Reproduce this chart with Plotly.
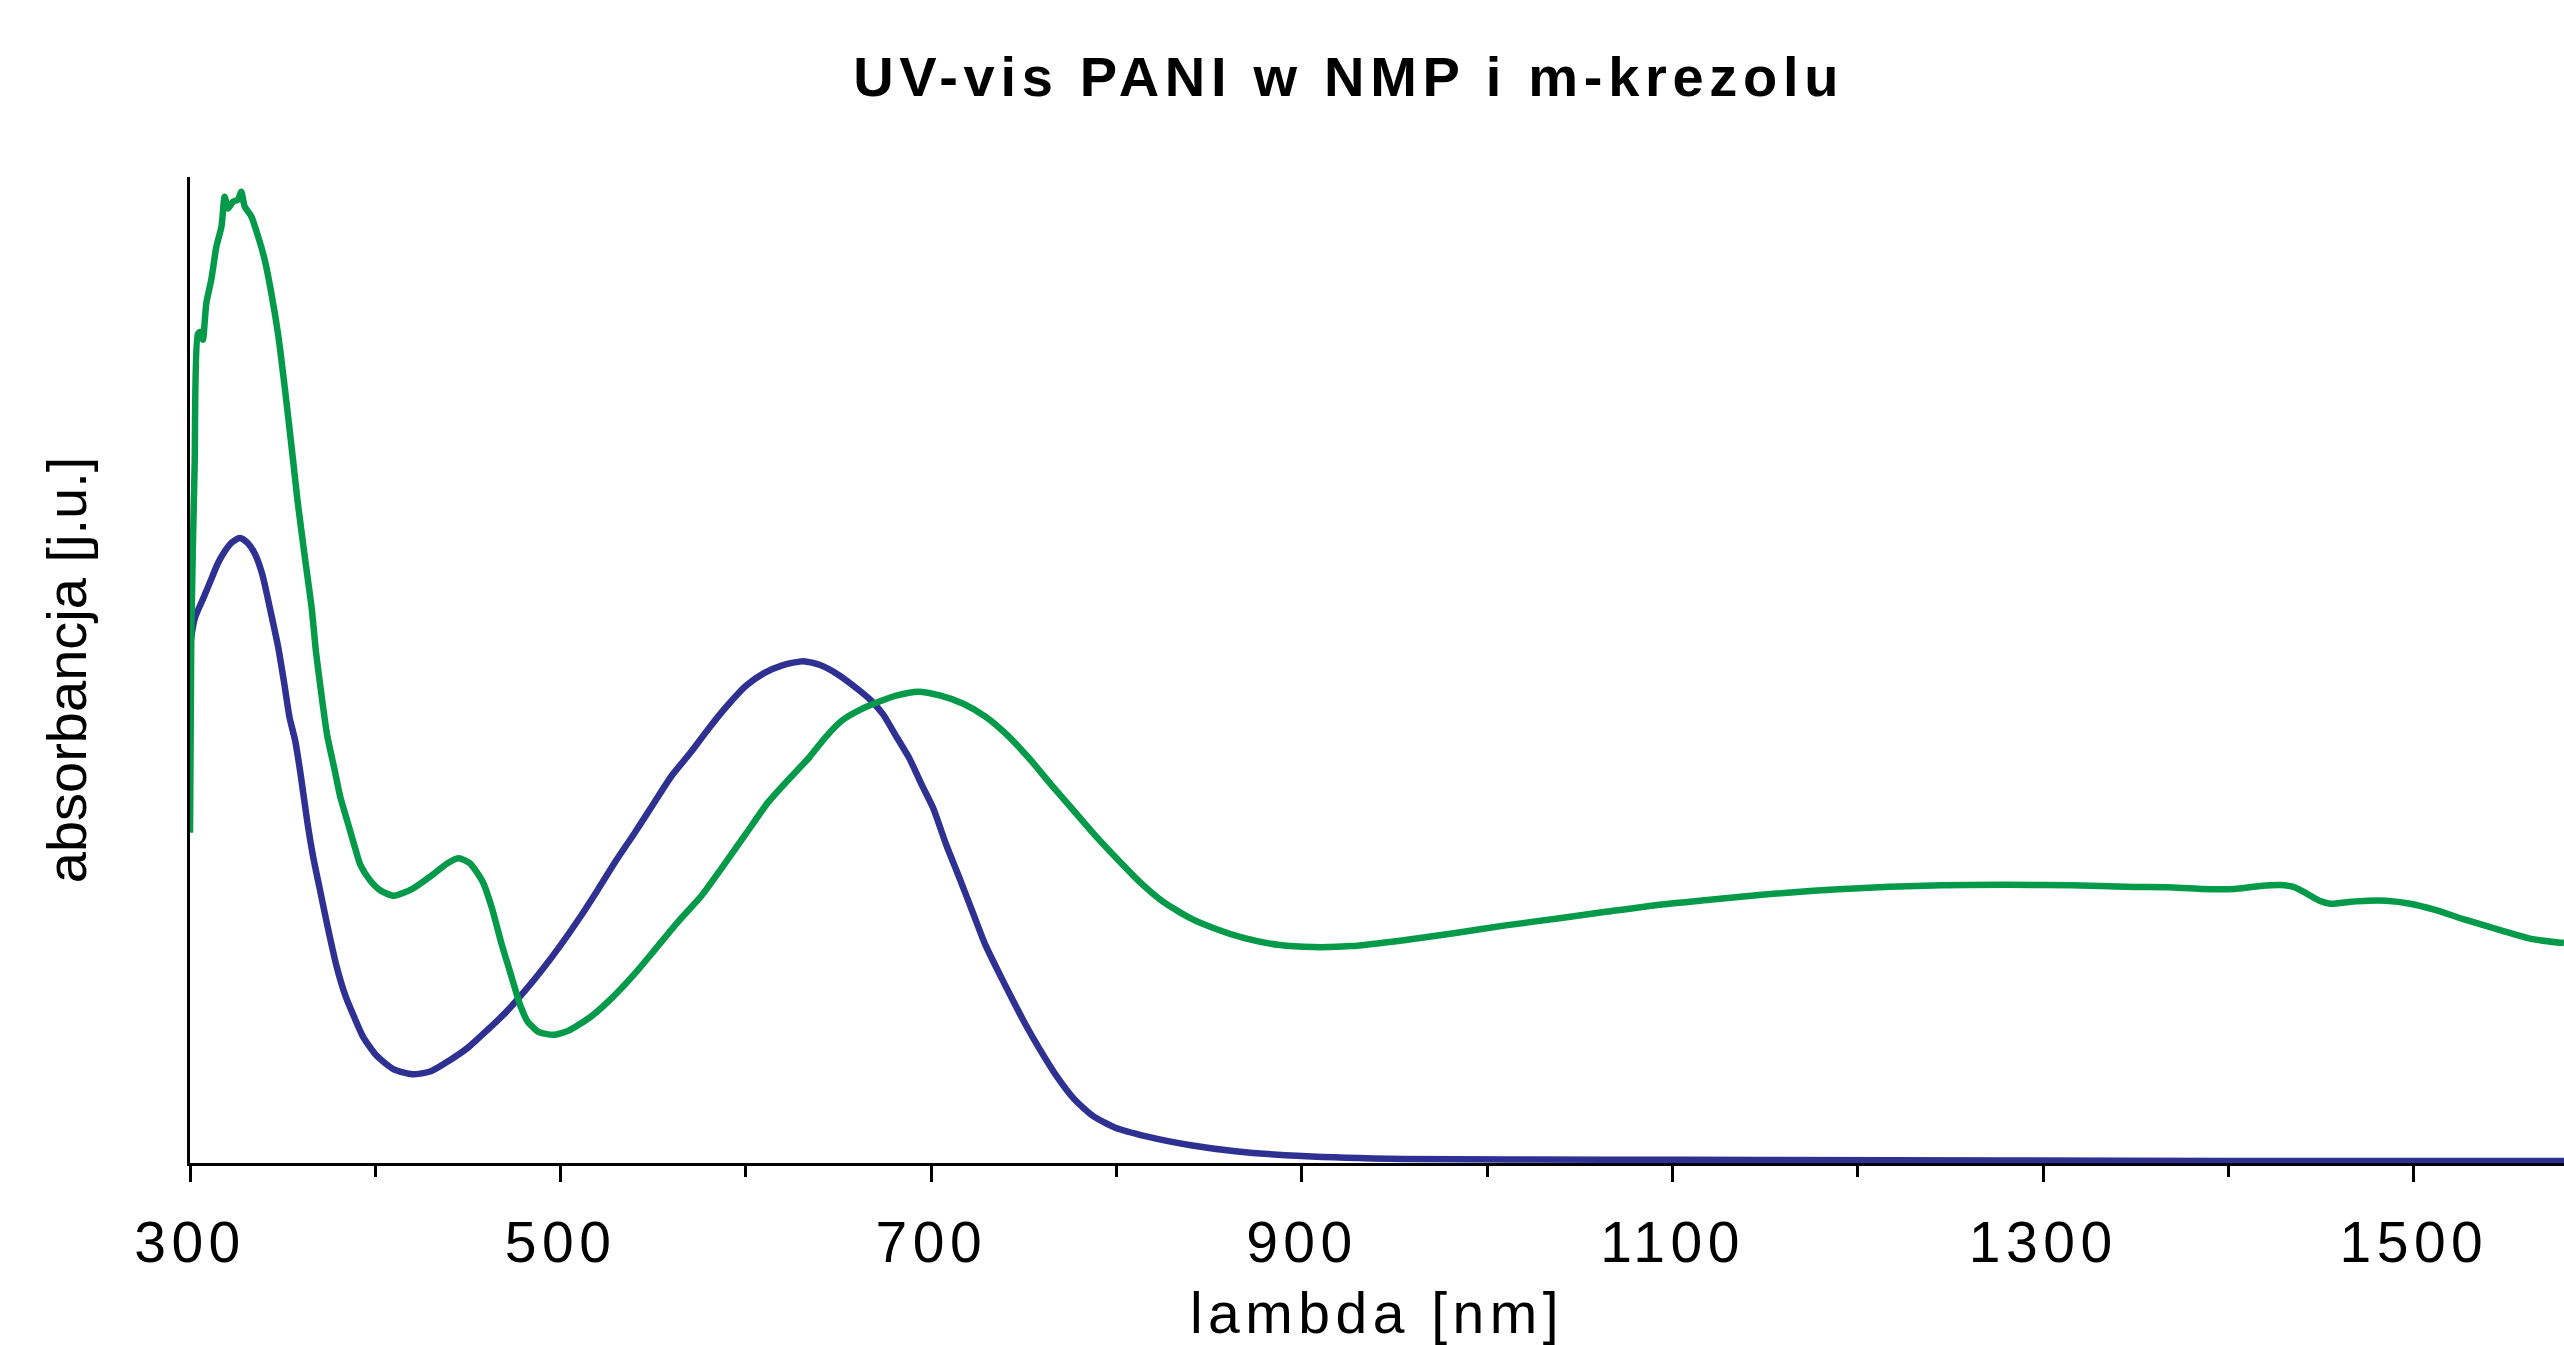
import plotly.graph_objects as go

# ---- data (arbitrary absorbance units) ----
nmp_wavelength = [300, 302.5, 307, 311, 315, 319, 323, 327, 331, 335, 339, 344, 347.7, 350.8,
                  353.7, 356.8, 359.7, 363.3, 366.4, 369.8, 374.1, 378.9, 383.8, 388.6, 393.4,
                  400.6, 410, 420, 430, 440, 450, 460, 470, 480, 490, 500, 510, 520, 530, 540,
                  550, 560, 570, 580, 590, 600, 610, 620, 631, 640, 650, 660, 667, 674, 681,
                  688, 695, 701, 708, 715, 722, 729, 737, 744, 751, 758, 768, 777, 787, 799,
                  816, 840, 864, 900, 955, 1065, 1150, 1280, 1400, 1581]
nmp_absorbance = [0.525, 0.552, 0.572, 0.590, 0.608, 0.621, 0.630, 0.634, 0.629, 0.618, 0.597,
                  0.555, 0.522, 0.487, 0.452, 0.428, 0.394, 0.346, 0.311, 0.280, 0.241, 0.201,
                  0.170, 0.148, 0.128, 0.109, 0.095, 0.090, 0.093, 0.104, 0.117, 0.134, 0.152,
                  0.173, 0.196, 0.221, 0.248, 0.277, 0.307, 0.335, 0.364, 0.393, 0.416, 0.441,
                  0.464, 0.484, 0.497, 0.505, 0.509, 0.505, 0.495, 0.481, 0.470, 0.455, 0.433,
                  0.411, 0.383, 0.360, 0.323, 0.290, 0.256, 0.222, 0.191, 0.165, 0.140, 0.117,
                  0.087, 0.065, 0.048, 0.036, 0.027, 0.018, 0.012, 0.007, 0.004, 0.0034, 0.003,
                  0.0025, 0.002, 0.002]

mkrezol_wavelength = [300, 300.7, 302.5, 304.3, 306, 307, 308.8, 311.5, 314.2, 317, 318.7, 320.5,
                      323.2, 325.9, 327.7, 329.5, 333.1, 336.7, 340.3, 343.9, 347.5, 351.1,
                      355.6, 358, 362, 365.7, 368, 371, 374, 378, 381, 385, 389, 392, 397, 403,
                      410, 420, 430, 439, 445, 451, 458, 463, 468, 473, 478, 482, 488, 496, 504,
                      516, 528, 540, 552, 564, 576, 588, 600, 612, 624, 634, 643, 652, 662, 672,
                      681, 693, 705, 717, 729, 741, 753, 765, 777, 789, 801, 813, 825, 840, 854,
                      869, 888, 906, 927, 955, 982, 1010, 1038, 1065, 1093, 1120, 1148, 1176,
                      1203, 1231, 1259, 1300, 1331, 1349, 1367, 1385, 1403, 1417, 1428, 1435,
                      1442, 1449, 1455, 1466, 1475, 1485, 1498, 1511, 1529, 1547, 1564, 1581]
mkrezol_absorbance = [0.335, 0.540, 0.707, 0.841, 0.843, 0.835, 0.872, 0.896, 0.929, 0.950, 0.980,
                      0.968, 0.975, 0.977, 0.985, 0.970, 0.960, 0.940, 0.916, 0.882, 0.841, 0.787,
                      0.713, 0.672, 0.614, 0.562, 0.518, 0.474, 0.434, 0.399, 0.372, 0.346, 0.320,
                      0.302, 0.287, 0.276, 0.271, 0.278, 0.291, 0.304, 0.309, 0.304, 0.285, 0.258,
                      0.223, 0.192, 0.161, 0.144, 0.133, 0.130, 0.134, 0.148, 0.168, 0.192, 0.219,
                      0.246, 0.271, 0.302, 0.334, 0.366, 0.391, 0.411, 0.432, 0.449, 0.460, 0.468,
                      0.474, 0.478, 0.474, 0.466, 0.453, 0.434, 0.410, 0.383, 0.357, 0.331, 0.307,
                      0.284, 0.265, 0.248, 0.237, 0.228, 0.221, 0.219, 0.220, 0.226, 0.233, 0.241,
                      0.248, 0.255, 0.262, 0.267, 0.272, 0.276, 0.279, 0.281, 0.282, 0.282, 0.281,
                      0.280, 0.2796, 0.278, 0.278, 0.281, 0.282, 0.280, 0.2735, 0.266, 0.263,
                      0.265, 0.266, 0.266, 0.263, 0.257, 0.246, 0.236, 0.227, 0.223]

x_tick_values = [300, 500, 700, 900, 1100, 1300, 1500]
x_tick_labels = ["300", "500", "700", "900", "1100", "1300", "1500"]

title_text = "UV-vis PANI w NMP i m-krezolu"
x_title_text = "lambda [nm]"
y_title_text = "absorbancja [j.u.]"

FONT = "Liberation Sans, Arial, Helvetica, sans-serif"
BLUE = "#2e3192"
GREEN = "#05994a"


def spaced(text, px):
    return '<span style="letter-spacing:%.1fpx">%s</span>' % (px, text)


fig = go.Figure()
fig.add_trace(go.Scatter(x=nmp_wavelength, y=nmp_absorbance, mode="lines", name="NMP",
                         line=dict(color=BLUE, width=6.5, shape="spline", smoothing=0.6)))
fig.add_trace(go.Scatter(x=mkrezol_wavelength, y=mkrezol_absorbance, mode="lines", name="m-krezol",
                         line=dict(color=GREEN, width=6.5, shape="spline", smoothing=0.6)))

fig.update_layout(
    width=2564, height=1345,
    margin=dict(l=190, r=0, t=177, b=182),
    paper_bgcolor="white", plot_bgcolor="white",
    showlegend=False,
    font=dict(family=FONT, color="black"),
    title=dict(text=spaced(title_text, 5.7), x=0.526, xref="container", xanchor="center",
               y=1 - 76 / 1345, yref="container", yanchor="middle",
               font=dict(family=FONT, size=56, color="black", weight="bold")),
    xaxis=dict(range=[300, 1581], showgrid=False, zeroline=False,
               showline=True, linecolor="black", linewidth=3, layer="below traces",
               tickmode="array", tickvals=x_tick_values,
               ticktext=[spaced(t, 5.5) for t in x_tick_labels],
               ticks="outside", ticklen=16, tickwidth=3, tickcolor="black",
               ticklabelstandoff=12,
               tickfont=dict(family=FONT, size=57, color="black"),
               minor=dict(dtick=100, tick0=300, ticks="outside", ticklen=11, tickwidth=3,
                          tickcolor="black", showgrid=False),
               title=dict(text=spaced(x_title_text, 5.5), standoff=20,
                          font=dict(family=FONT, size=57, color="black"))),
    yaxis=dict(range=[0, 1], showgrid=False, zeroline=False,
               showline=True, linecolor="black", linewidth=3, layer="below traces",
               ticks="", showticklabels=False,
               title=dict(text=y_title_text, standoff=83,
                          font=dict(family=FONT, size=56, color="black"))),
)

fig.write_html("out.html")
